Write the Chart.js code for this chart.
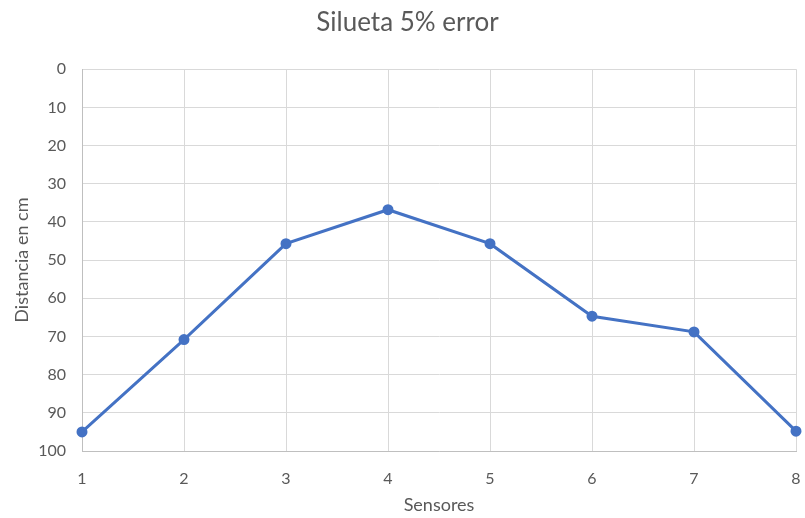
<!DOCTYPE html>
<html>
<head>
<meta charset="utf-8">
<script src="https://cdn.jsdelivr.net/npm/chart.js@4"></script>
<style>
html,body{margin:0;padding:0;background:#fff;}
#wrap{width:805px;height:518px;}
</style>
</head>
<body>
<div id="wrap"><canvas id="c" width="805" height="518"></canvas></div>
<script>
const categories = ['1','2','3','4','5','6','7','8'];
const distancia = [95, 70.8, 45.7, 36.8, 45.7, 64.7, 68.8, 94.8];
const chartTitle = 'Silueta 5% error';
const xTitle = 'Sensores';
const yTitle = 'Distancia en cm';

const FONT = 'Lato, "Open Sans", sans-serif';
const TXT = '#595959';

new Chart(document.getElementById('c'), {
  type: 'line',
  data: {
    labels: categories,
    datasets: [{
      label: yTitle,
      data: distancia,
      borderColor: '#4472c4',
      backgroundColor: '#4472c4',
      borderWidth: 3,
      pointRadius: 4,
      pointHoverRadius: 4,
      tension: 0,
      fill: false
    }]
  },
  options: {
    responsive: false,
    animation: false,
    layout: { autoPadding: false, padding: { left: 10, right: 0, top: 3, bottom: 0 } },
    plugins: {
      legend: { display: false },
      tooltip: { enabled: false },
      title: {
        display: true,
        text: chartTitle,
        color: TXT,
        font: { family: FONT, size: 26, weight: 'normal' },
        padding: { top: 4, bottom: 31 }
      }
    },
    scales: {
      x: {
        offset: false,
        grid: { color: '#d9d9d9', lineWidth: 1, drawTicks: false },
        border: { color: '#bfbfbf', width: 1 },
        ticks: { color: TXT, font: { family: FONT, size: 16 }, padding: 18, maxRotation: 0 },
        title: { display: true, text: xTitle, color: TXT, font: { family: FONT, size: 18 }, padding: { top: 0, bottom: 2 } },
        afterFit: (s) => { s.height = 67; s.paddingLeft = 0; s.paddingRight = 9; }
      },
      y: {
        reverse: true,
        min: 0,
        max: 100,
        grid: { color: '#d9d9d9', lineWidth: 1, drawTicks: false },
        border: { color: '#bfbfbf', width: 1 },
        ticks: { stepSize: 10, color: TXT, font: { family: FONT, size: 16 }, padding: 16 },
        title: { display: true, text: yTitle, color: TXT, font: { family: FONT, size: 18 }, padding: { top: 1, bottom: 6 } },
        afterFit: (s) => { s.width = 72; s.paddingTop = 0; s.paddingBottom = 0; }
      }
    }
  }
});
</script>
</body>
</html>
